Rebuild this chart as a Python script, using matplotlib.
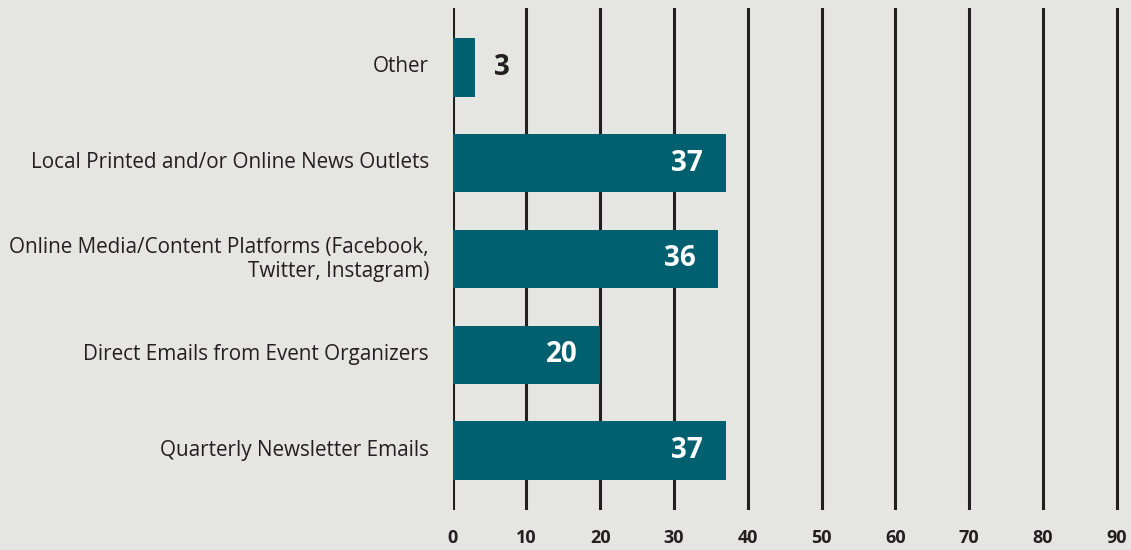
import matplotlib.pyplot as plt
import matplotlib.transforms as mtransforms

plt.rcParams['font.family'] = ['Open Sans', 'DejaVu Sans']

categories = ['Other',
              'Local Printed and/or Online News Outlets',
              'Online Media/Content Platforms (Facebook,\nTwitter, Instagram)',
              'Direct Emails from Event Organizers',
              'Quarterly Newsletter Emails']
values = [3, 37, 36, 20, 37]
xticks = [0, 10, 20, 30, 40, 50, 60, 70, 80, 90]

bg = '#e5e6e1'
teal = '#00606f'
ink = '#231f20'

fig = plt.figure(figsize=(11.31, 5.5), dpi=100, facecolor=bg)
ax = fig.add_axes([452.5 / 1131, 40 / 550, (1125 - 452.5) / 1131, 502 / 550])
ax.set_facecolor(bg)

ypos = list(range(len(categories)))
ax.barh(ypos, values, height=0.61, color=teal, zorder=3)

ax.set_xlim(0, 91.1)
ax.set_ylim(len(categories) - 0.38, -0.62)
ax.set_xticks(xticks)
ax.set_xticklabels([str(t) for t in xticks], fontsize=13, fontweight='bold', color=ink)
ax.set_yticks(ypos)
ax.set_yticklabels(categories, fontsize=14.9, color=ink, linespacing=1.15)
ax.tick_params(axis='x', length=0, pad=14)
ax.tick_params(axis='y', length=0, pad=17)
ax.grid(axis='x', color=ink, linewidth=2.2, zorder=1)
for s in ax.spines.values():
    s.set_visible(False)

# nudge category labels up a little
shift = mtransforms.ScaledTranslation(0, 3 / 100, fig.dpi_scale_trans)
for lbl in ax.get_yticklabels():
    lbl.set_transform(lbl.get_transform() + shift)

# value labels: inside the bar end in white, outside for short bars
for y, v in zip(ypos, values):
    if v < 10:
        ax.text(v + 2.6, y, str(v), ha='left', va='center', fontsize=20,
                fontweight='bold', color=ink, zorder=4)
    else:
        ax.text(v - 3.1, y, str(v), ha='right', va='center', fontsize=20,
                fontweight='bold', color='white', zorder=4)

fig.savefig('out.png', dpi=100, facecolor=bg)
